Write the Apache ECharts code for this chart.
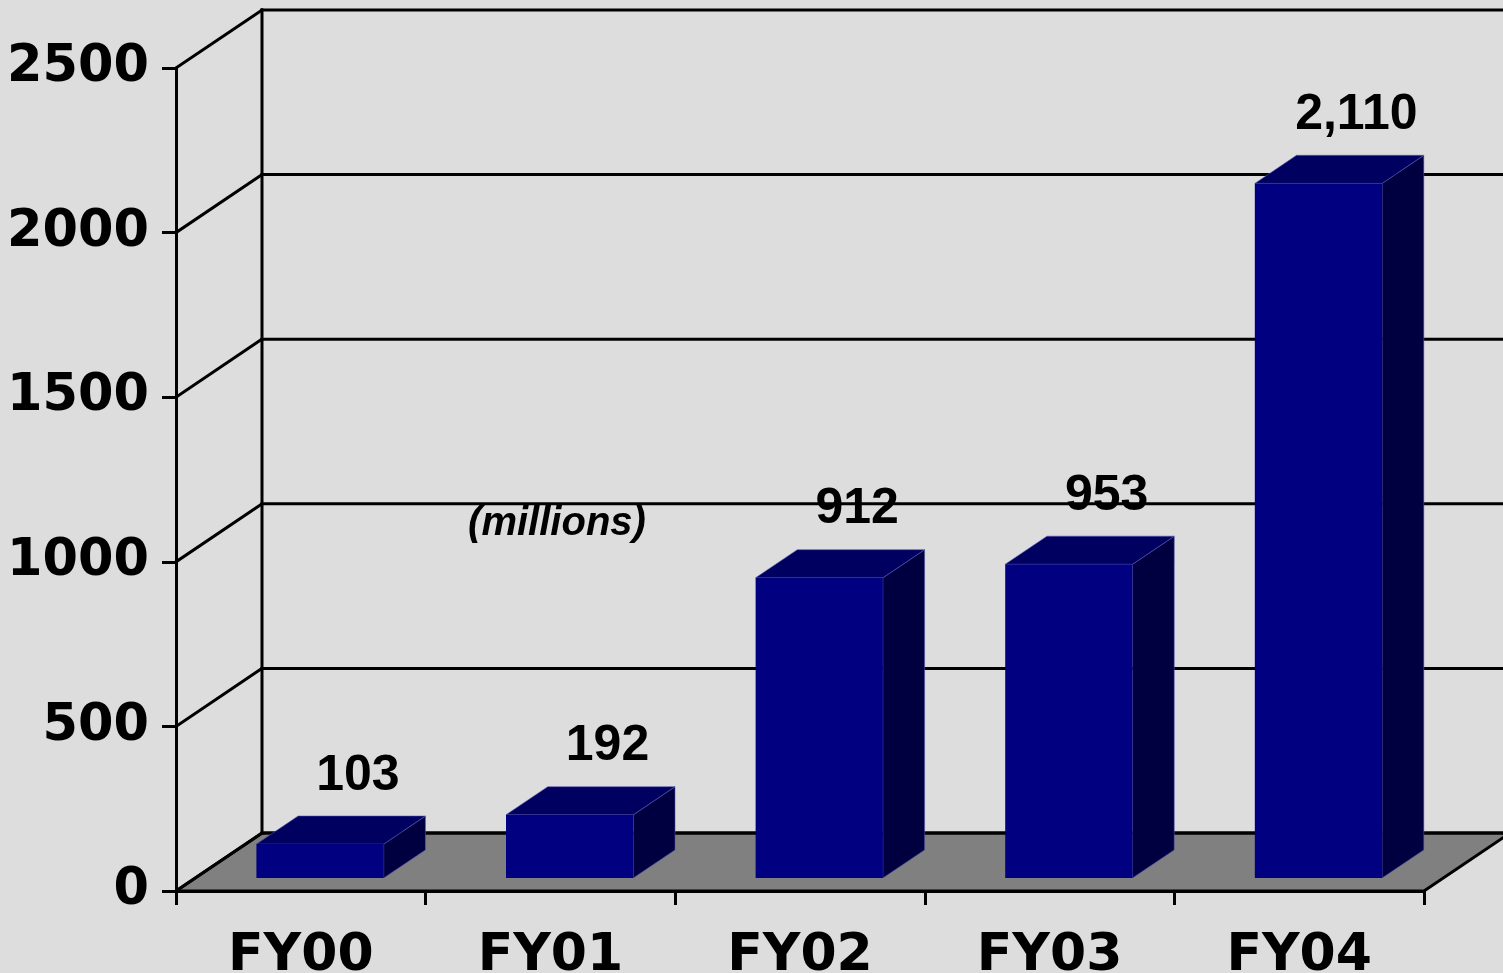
<!DOCTYPE html>
<html>
<head>
<meta charset="utf-8">
<script src="https://cdn.jsdelivr.net/npm/echarts@6/dist/echarts.min.js"></script>
<style>
html,body{margin:0;padding:0;background:#DDDDDD;}
#chart{width:1503px;height:973px;}
</style>
</head>
<body>
<div id="chart"></div>
<script>
const categories = ['FY00', 'FY01', 'FY02', 'FY03', 'FY04'];
const values = [103, 192, 912, 953, 2110];
const yTicks = [0, 500, 1000, 1500, 2000, 2500];
const unitNote = '(millions)';

const DX = 86, DY = -58;           // wall depth offset (px)
const F0 = 0.224, FD = 0.485;      // bar depth start / depth length (fractions)
const AXIS_FONT = '"DejaVu Sans", sans-serif';

function fmt(v) { return v >= 1000 ? v.toLocaleString('en-US') : String(v); }

const chart = echarts.init(document.getElementById('chart'), null, {renderer: 'canvas'});

const option = {
  backgroundColor: '#DDDDDD',
  animation: false,
  grid: {left: 176, top: 68, right: 79, bottom: 82, containLabel: false, outerBoundsMode: 'none'},
  xAxis: {
    type: 'category',
    data: categories,
    boundaryGap: true,
    axisLine: {show: true, lineStyle: {color: '#000', width: 3}},
    axisTick: {show: true, length: 14, lineStyle: {color: '#000', width: 3}},
    axisLabel: {color: '#000', fontSize: 52, fontWeight: 'bold', fontFamily: AXIS_FONT, margin: 39},
    splitLine: {show: false}
  },
  yAxis: {
    type: 'value',
    min: 0, max: 2500, interval: 500,
    axisLine: {show: true, lineStyle: {color: '#000', width: 3}},
    axisTick: {show: true, length: 14, lineStyle: {color: '#000', width: 3}},
    axisLabel: {color: '#000', fontSize: 51, fontWeight: 'bold', fontFamily: AXIS_FONT, margin: 27,
      formatter: function (v) { return String(v); }},
    splitLine: {show: false}
  },
  graphic: [{
    type: 'text', z: 100,
    style: {text: unitNote, x: 557, y: 524, textAlign: 'center', textVerticalAlign: 'middle',
      font: 'italic bold 40px "Liberation Sans", Arial, sans-serif', fill: '#000'}
  }],
  series: [
    {
      type: 'custom',
      z: 1,
      silent: true,
      data: yTicks.map(v => [0, v]),
      renderItem: function (params, api) {
        const cs = params.coordSys;
        const v = api.value(1);
        const y = api.coord([0, v])[1];
        const xL = cs.x, xR = cs.x + cs.width;
        const children = [];
        const ls = {stroke: '#000', lineWidth: 3, lineCap: 'square'};
        if (v === 0) {
          children.push({type: 'polygon', shape: {points: [[xL, y], [xR, y], [xR + DX, y + DY], [xL + DX, y + DY]]},
            style: {fill: '#808080', stroke: '#000', lineWidth: 3}});
          const yTop = api.coord([0, yTicks[yTicks.length - 1]])[1];
          children.push({type: 'line', shape: {x1: xL + DX, y1: y + DY, x2: xL + DX, y2: yTop + DY}, style: ls});
        }
        children.push({type: 'line', shape: {x1: xL, y1: y, x2: xL + DX, y2: y + DY}, style: ls});
        children.push({type: 'line', shape: {x1: xL + DX, y1: y + DY, x2: xR + DX, y2: y + DY}, style: ls});
        return {type: 'group', children: children};
      }
    },
    {
      type: 'custom',
      z: 5,
      data: values.map((v, i) => [i, v]),
      renderItem: function (params, api) {
        const i = api.value(0), v = api.value(1);
        const base = api.coord([i, 0]);
        const top = api.coord([i, v]);
        const band = api.size([1, 0])[0];
        const w = band * 0.51;
        const fx = F0 * DX, fy = F0 * DY;
        const sx = FD * DX, sy = FD * DY;
        const x0 = base[0] - w / 2 + fx, x1 = x0 + w;
        const yb = base[1] + fy, yt = top[1] + fy;
        const edge = 'rgba(90,90,180,0.55)';
        return {
          type: 'group',
          children: [
            {type: 'polygon', shape: {points: [[x1, yt], [x1 + sx, yt + sy], [x1 + sx, yb + sy], [x1, yb]]},
              style: {fill: '#000040', stroke: edge, lineWidth: 1}},
            {type: 'polygon', shape: {points: [[x0, yt], [x1, yt], [x1 + sx, yt + sy], [x0 + sx, yt + sy]]},
              style: {fill: '#000060', stroke: edge, lineWidth: 1}},
            {type: 'rect', shape: {x: x0, y: yt, width: w, height: yb - yt},
              style: {fill: '#000080'}},
            {type: 'text', z2: 50,
              style: {text: fmt(v), x: (x0 + x1) / 2 + sx / 2 + 17, y: yt + sy - 40,
                textAlign: 'center', textVerticalAlign: 'middle',
                font: 'bold 50px "Liberation Sans", Arial, sans-serif', fill: '#000'}}
          ]
        };
      }
    }
  ]
};
chart.setOption(option);
</script>
</body>
</html>
